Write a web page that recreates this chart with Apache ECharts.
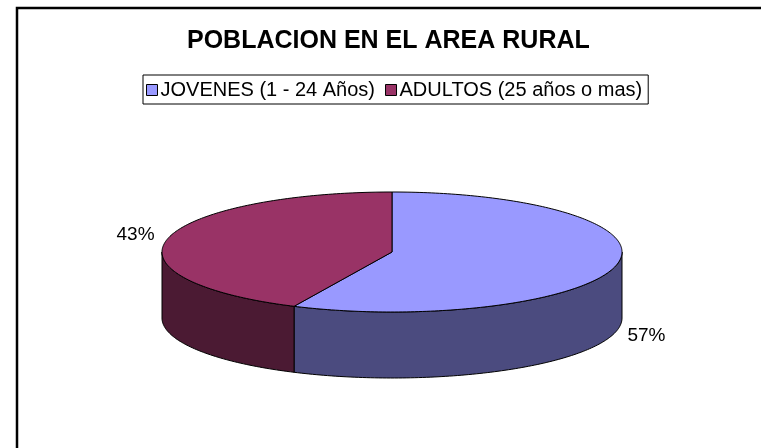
<!DOCTYPE html>
<html>
<head>
<meta charset="utf-8">
<script src="https://cdn.jsdelivr.net/npm/echarts@6/dist/echarts.min.js"></script>
<style>
html, body { margin: 0; padding: 0; background: #fff; }
#main { width: 761px; height: 448px; }
</style>
</head>
<body>
<div id="main"></div>
<script>
// datos
var categorias = ['JOVENES (1 - 24 Años)', 'ADULTOS (25 años o mas)'];
var valores = [57, 43];
var coloresTapa = ['#9999FF', '#993366'];
var coloresLado = ['#4B4B7F', '#4B1A33'];

// geometria del pastel 3D
var CX = 392, CY = 252, RX = 230, RY = 60, PROF = 66;
var fuente = "'Liberation Sans', Arial, sans-serif";

var total = valores.reduce(function(a, b) { return a + b; }, 0);

function punto(ang, dy) {
	var r = ang * Math.PI / 180;
	return [CX + RX * Math.cos(r), CY + RY * Math.sin(r) + (dy || 0)];
}

function arco(a0, a1, dy) {
	var pts = [];
	var n = Math.max(2, Math.ceil(Math.abs(a1 - a0)));
	for (var i = 0; i <= n; i++) {
		pts.push(punto(a0 + (a1 - a0) * i / n, dy));
	}
	return pts;
}

function renderSector(idx) {
	return function(params, api) {
		var inicio = api.value(0);
		var valor = api.value(1);
		var a0 = -90 + inicio / total * 360;
		var a1 = a0 + valor / total * 360;
		var hijos = [];

		// lado frontal (solo la parte visible entre 0 y 180 grados)
		[0, 360, -360].forEach(function(off) {
			var s = Math.max(a0 + off, 0), e = Math.min(a1 + off, 180);
			if (e > s) {
				var pts = arco(s, e, 0).concat(arco(e, s, PROF));
				hijos.push({
					type: 'polygon',
					z2: 1,
					shape: { points: pts },
					style: { fill: coloresLado[idx], stroke: '#000', lineWidth: 1 }
				});
			}
		});

		// tapa
		var tapa = [[CX, CY]].concat(arco(a0, a1, 0));
		hijos.push({
			type: 'polygon',
			z2: 2,
			shape: { points: tapa },
			style: { fill: coloresTapa[idx], stroke: '#000', lineWidth: 1 }
		});

		// etiqueta de porcentaje
		var m = (a0 + a1) / 2;
		var r = m * Math.PI / 180;
		var frente = Math.sin(r) > 0;
		var p = punto(m, frente ? PROF : 0);
		var derecha = Math.cos(r) > 0;
		hijos.push({
			type: 'text',
			z2: 3,
			x: p[0] + (derecha ? 11 : -13),
			y: p[1] + (frente ? 5 : -4),
			style: {
				text: Math.round(valor / total * 100) + '%',
				fill: '#000',
				font: '19px ' + fuente,
				align: derecha ? 'left' : 'right',
				verticalAlign: 'middle'
			}
		});
		return { type: 'group', children: hijos };
	};
}

var acumulado = 0;
var series = categorias.map(function(nombre, i) {
	var s = {
		name: nombre,
		type: 'custom',
		coordinateSystem: 'none',
		itemStyle: { color: coloresTapa[i] },
		renderItem: renderSector(i),
		data: [[acumulado, valores[i]]]
	};
	acumulado += valores[i];
	return s;
});

var chart = echarts.init(document.getElementById('main'));
chart.setOption({
	animation: false,
	backgroundColor: '#fff',
	title: {
		text: 'POBLACION EN EL AREA RURAL',
		left: 187,
		top: 29,
		padding: 0,
		textStyle: {
			fontFamily: fuente,
			fontSize: 25,
			fontWeight: 'bold',
			color: '#000'
		}
	},
	legend: {
		data: categorias,
		left: 143,
		top: 75,
		orient: 'horizontal',
		icon: 'rect',
		itemWidth: 11,
		itemHeight: 11,
		itemGap: 10,
		padding: [5, 6, 4, 3],
		borderColor: '#000',
		borderWidth: 1,
		selectedMode: false,
		itemStyle: { borderColor: '#000', borderWidth: 1 },
		textStyle: {
			fontFamily: fuente,
			fontSize: 20,
			color: '#000',
			padding: [0, 0, 0, -2]
		}
	},
	graphic: [{
		type: 'rect',
		shape: { x: 17, y: 8, width: 800, height: 500 },
		style: { fill: 'none', stroke: '#000', lineWidth: 2.5 },
		silent: true
	}],
	series: series
});
</script>
</body>
</html>
